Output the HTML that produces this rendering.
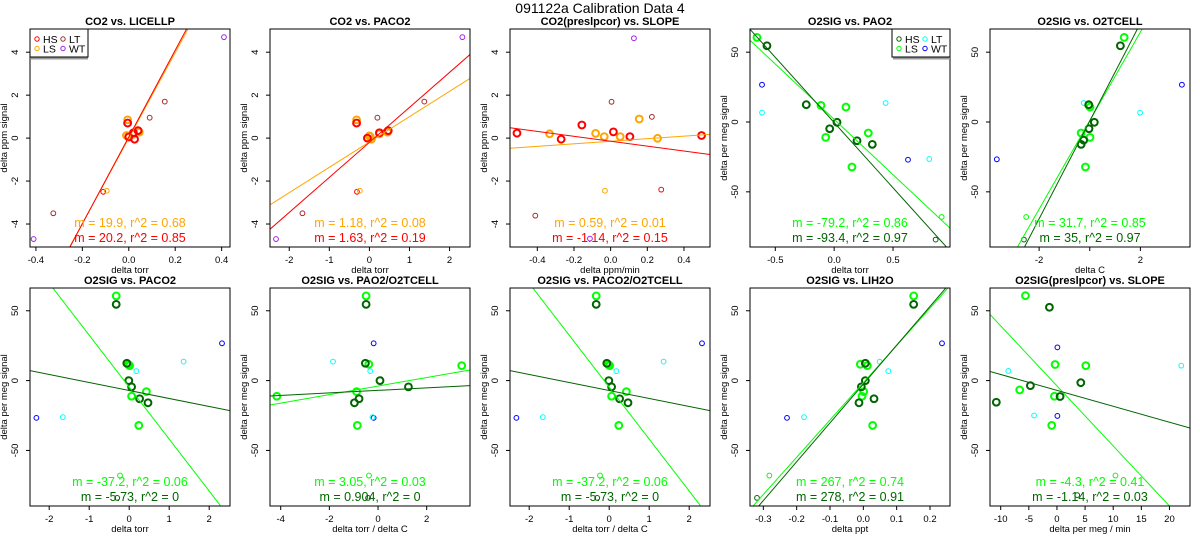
<!DOCTYPE html>
<html><head><meta charset="utf-8">
<style>
html,body{margin:0;padding:0;background:#fff;}
svg text{font-family:"Liberation Sans",Arial,sans-serif;}
</style></head>
<body>
<svg id="chart" width="1200" height="550" viewBox="0 0 1200 550" xmlns="http://www.w3.org/2000/svg">
<text x="600" y="13" text-anchor="middle" font-size="14">091122a   Calibration Data 4</text>
</svg>
<script>
// ---- data ----
const panelTitles = ["CO2 vs. LICELLP","CO2 vs. PACO2","CO2(preslpcor) vs. SLOPE","O2SIG vs. PAO2","O2SIG vs. O2TCELL","O2SIG vs. PACO2","O2SIG vs. PAO2/O2TCELL","O2SIG vs. PACO2/O2TCELL","O2SIG vs. LIH2O","O2SIG(preslpcor) vs. SLOPE"];
const xTitles = ["delta torr","delta torr","delta ppm/min","delta torr","delta C","delta torr","delta torr / delta C","delta torr / delta C","delta ppt","delta per meg / min"];
const xLims = [[-0.4255,0.436],[-2.48,2.51],[-0.549,0.542],[-0.715,0.984],[-3.94,3.96],[-2.48,2.52],[-4.44,3.78],[-2.48,2.52],[-0.34,0.26],[-11.9,23.65]];
const xTicks = [[-0.4,-0.2,0,0.2,0.4],[-2,-1,0,1,2],[-0.4,-0.2,0,0.2,0.4],[-0.5,0,0.5],[-2,0,2],[-2,-1,0,1,2],[-4,-2,0,2],[-2,-1,0,1,2],[-0.3,-0.2,-0.1,0,0.1,0.2],[-10,-5,0,5,10,15,20]];
const xTickLabels = [["-0.4","-0.2","0.0","0.2","0.4"],["-2","-1","0","1","2"],["-0.4","-0.2","0.0","0.2","0.4"],["-0.5","0.0","0.5"],["-2","","2"],["-2","-1","0","1","2"],["-4","-2","0","2"],["-2","-1","0","1","2"],["-0.3","-0.2","-0.1","0.0","0.1","0.2"],["-10","-5","0","5","10","15","20"]];
const yLimCO2 = [-5.07,5.08];
const yLimO2row1 = [-89.5,66.6];
const yLimO2row2 = [-89.8,66.3];
const yTicksCO2 = [-4,-2,0,2,4];
const yTicksO2 = [-50,0,50];
const fitA = [[20.2,0.05],[1.63,-0.2],[-1.14,-0.146],[-93.4,-0.4],[35,0.7],[-5.73,-7.1],[0.904,-7],[-5.73,-7.1],[278,-2.5],[-1.14,-7]];
const fitB = [[19.9,0],[1.18,-0.18],[0.59,-0.146],[-79.2,1.9],[31.7,1.0],[-37.2,-4.7],[3.05,-3.9],[-37.2,-4.7],[267,-1.5],[-4.3,-3.8]];
const annA = ["m = 20.2, r^2 = 0.85","m = 1.63, r^2 = 0.19","m = -1.14, r^2 = 0.15","m = -93.4, r^2 = 0.97","m = 35, r^2 = 0.97","m = -5.73, r^2 = 0","m = 0.904, r^2 = 0","m = -5.73, r^2 = 0","m = 278, r^2 = 0.91","m = -1.14, r^2 = 0.03"];
const annB = ["m = 19.9, r^2 = 0.68","m = 1.18, r^2 = 0.08","m = 0.59, r^2 = 0.01","m = -79.2, r^2 = 0.86","m = 31.7, r^2 = 0.85","m = -37.2, r^2 = 0.06","m = 3.05, r^2 = 0.03","m = -37.2, r^2 = 0.06","m = 267, r^2 = 0.74","m = -4.3, r^2 = 0.41"];
const hsPts = [
 [[-0.005,0.7],[0.02,0.25],[0.04,0.35],[0.0,0.05],[0.025,-0.05]],
 [[-0.32,0.7],[-0.05,0],[0.25,0.25],[0.47,0.35]],
 [[-0.511,0.23],[-0.27,-0.05],[-0.157,0.61],[0.015,0.29],[0.105,0.07],[0.496,0.12]],
 [[-0.571,54.6],[-0.237,12.4],[-0.038,-4.8],[0.024,-0.2],[0.194,-13.4],[0.324,-16]],
 [[1.21,54.6],[-0.04,12.4],[-0.03,-4.8],[0.18,-0.2],[-0.24,-13],[-0.34,-16]],
 [[-0.325,54.6],[-0.06,12.4],[-0.01,0],[0.06,-4.5],[0.26,-13],[0.47,-15.9]],
 [[-0.49,54.6],[-0.52,12.4],[0.08,0],[1.25,-4.5],[-0.78,-13],[-0.97,-15.9]],
 [[-0.325,54.6],[-0.06,12.4],[-0.01,0],[0.06,-4.5],[0.26,-13],[0.47,-15.9]],
 [[0.151,54.6],[0.006,12.4],[0.006,0],[-0.006,-4.5],[0.032,-13],[-0.013,-15.9]],
 [[-1.34,52.5],[-4.72,-3.6],[4.24,-1.5],[0.56,-11.4],[-10.78,-15.5]]
];
const lsPts = [
 [[-0.005,0.85],[-0.01,0.12],[0.045,0.28],[0.02,0.18],[0.0,0.08]],
 [[-0.32,0.85],[0.0,0.1],[0.05,-0.05],[0.25,0.2],[0.45,0.28],[0.02,0.08]],
 [[-0.333,0.2],[-0.082,0.22],[-0.035,0.07],[0.052,0.07],[0.156,0.89],[0.256,-0.01]],
 [[-0.656,60.6],[-0.112,11.9],[-0.072,-11],[0.1,10.7],[0.29,-7.9],[0.151,-32.2]],
 [[1.36,60.6],[-0.04,12.0],[0.01,10.7],[0.01,-11],[-0.34,-7.9],[-0.17,-32.2]],
 [[-0.325,60.6],[-0.02,11.5],[0.01,10.7],[0.06,-11.2],[0.43,-7.9],[0.24,-32.1]],
 [[-0.49,60.6],[-0.38,11.7],[3.44,10.7],[-4.16,-11.2],[-0.88,-7.9],[-0.85,-32.1]],
 [[-0.325,60.6],[-0.02,11.5],[0.01,10.7],[0.06,-11.2],[0.43,-7.9],[0.24,-32.1]],
 [[0.151,60.6],[-0.009,11.7],[0.012,10.7],[-0.004,-11.2],[0.001,-7.9],[0.028,-32.1]],
 [[-5.6,60.8],[-0.33,11.5],[5.13,10.7],[-6.62,-6.7],[-0.45,-11.2],[-0.93,-32.1]]
];
const hsOut = [[[-0.11,-2.5]],[[-0.31,-2.5]],[[0.276,-2.4]],[[0.862,-84.2]],[[-2.6,-84.2]],[[-0.3,-84]],[[-0.41,-84]],[[-0.3,-84]],[[-0.319,-84]],[[3.6,-82]]];
const lsOut = [[[-0.095,-2.45]],[[-0.24,-2.45]],[[-0.031,-2.45]],[[0.913,-68]],[[-2.51,-68]],[[-0.23,-68]],[[-0.37,-68]],[[-0.23,-68]],[[-0.282,-68]],[[10.4,-68]]];
const ltPts = [
 [[-0.325,-3.5],[0.09,0.95],[0.155,1.7]],
 [[-1.67,-3.5],[0.2,0.95],[1.37,1.7]],
 [[-0.411,-3.61],[0.005,1.69],[0.225,0.99]],
 [[-0.613,6.7],[0.437,13.6],[0.808,-26.5]],
 [[-0.24,13.6],[1.99,6.7]],
 [[-1.66,-26.2],[0.18,6.8],[1.36,13.6]],
 [[-1.85,13.6],[-0.32,6.8],[-0.23,-26.2]],
 [[-1.66,-26.2],[0.18,6.8],[1.36,13.6]],
 [[-0.178,-26.2],[0.049,13.6],[0.075,6.8]],
 [[-8.63,6.9],[-4.07,-25],[22.1,10.7]]
];
const wtPts = [
 [[-0.41,-4.7],[0.41,4.7]],
 [[-2.33,-4.7],[2.32,4.7]],
 [[0.127,4.65],[-0.113,-4.68]],
 [[-0.613,26.7],[0.627,-27]],
 [[-3.67,-26.7],[3.64,26.7]],
 [[-2.32,-26.7],[2.32,26.7]],
 [[-0.18,26.7],[-0.18,-26.7]],
 [[-2.32,-26.7],[2.32,26.7]],
 [[-0.229,-26.7],[0.236,26.7]],
 [[0.08,23.8],[0.08,-25.3]]
];
const legendLabels = ["HS","LS","LT","WT"];

// ---- drawing ----
const NS = "http://www.w3.org/2000/svg";
const svg = document.getElementById('chart');
function mk(tag, attrs, parent){
  const e = document.createElementNS(NS, tag);
  for (const k in attrs) e.setAttribute(k, attrs[k]);
  (parent||svg).appendChild(e);
  return e;
}
const co2Cols = {a:"#FF0000", b:"#FFA500", lt:"#A52A2A", wt:"#A020F0"};
const o2Cols = {a:"#006400", b:"#00FF00", lt:"#00FFFF", wt:"#0000FF"};

for (let i=0;i<10;i++){
  const row = Math.floor(i/5), col = i%5;
  const L = 30+240*col, R = L+200;
  const T = row===0 ? 29 : 288, B = row===0 ? 247 : 506;
  const isCO2 = i<3;
  const yl = isCO2 ? yLimCO2 : (row===0 ? yLimO2row1 : yLimO2row2);
  const yt = isCO2 ? yTicksCO2 : yTicksO2;
  const xl = xLims[i];
  const sx = v => L + (v-xl[0])/(xl[1]-xl[0])*(R-L);
  const sy = v => B - (v-yl[0])/(yl[1]-yl[0])*(B-T);
  const C = isCO2 ? co2Cols : o2Cols;

  const g = mk('g', {});
  
  
  const cp = mk('clipPath', {id:'clip'+i}, g);
  mk('rect', {x:L, y:T, width:R-L, height:B-T}, cp);

  const title = mk('text', {x:L+100, y:row===0?28:287, 'text-anchor':'middle', 'font-size':'11', 'font-weight':'bold', dy:'-3'}, g);
  title.textContent = panelTitles[i];
  
  

  xTicks[i].forEach((v,k)=>{
    const x = sx(v);
    mk('line', {x1:x, x2:x, y1:B, y2:B+4, stroke:'#000', 'stroke-width':1}, g);
    const t = mk('text', {x:x, y:B+16, 'text-anchor':'middle', 'font-size':'9.5'}, g);
    t.textContent = xTickLabels[i][k];
    
    
  });
  const xt = mk('text', {x:L+100, y:B+26, 'text-anchor':'middle', 'font-size':'9.5'}, g);
  xt.textContent = xTitles[i];
  
  

  yt.forEach(v=>{
    const y = sy(v);
    mk('line', {x1:L-4, x2:L, y1:y, y2:y, stroke:'#000', 'stroke-width':1}, g);
    const t = mk('text', {x:0, y:0, 'text-anchor':'middle', 'font-size':'9.5', transform:`translate(${L-12},${y}) rotate(-90)`}, g);
    t.textContent = String(v);
    
    
  });
  const ytl = mk('text', {x:0, y:0, 'text-anchor':'middle', 'font-size':'9.5', transform:`translate(${L-23},${(T+B)/2}) rotate(-90)`}, g);
  ytl.textContent = isCO2 ? 'delta ppm signal' : 'delta per meg signal';
  
  

  const drawPts = (pts, color, r, w, name) => pts.forEach(p=>{
    const c = mk('circle', {cx:sx(p[0]), cy:sy(p[1]), r:r, fill:'none', stroke:color, 'stroke-width':w}, g);
    
    
  });
  drawPts(wtPts[i], C.wt, 2.4, 1, 'wt-point');
  drawPts(ltPts[i], C.lt, 2.4, 1, 'lt-point');
  drawPts(hsOut[i], C.a, 2.4, 1, 'hs-excluded-point');
  drawPts(lsOut[i], C.b, 2.4, 1, 'ls-excluded-point');
  drawPts(lsPts[i], C.b, 3.4, 2, 'ls-point');
  drawPts(hsPts[i], C.a, 3.4, 2, 'hs-point');

  const drawFit = (f, color, name) => {
    const ln = mk('line', {x1:sx(xl[0]), y1:sy(f[1]+f[0]*xl[0]), x2:sx(xl[1]), y2:sy(f[1]+f[0]*xl[1]), stroke:color, 'stroke-width':1, 'clip-path':`url(#clip${i})`}, g);
    
    
  };
  drawFit(fitB[i], C.b, 'ls-fit-line');
  drawFit(fitA[i], C.a, 'hs-fit-line');

  const ry = row===0 ? [227,242] : [486,501];
  const a1 = mk('text', {x:L+100, y:ry[0], 'text-anchor':'middle', 'font-size':'12.5', fill:C.b}, g);
  a1.textContent = annB[i];
  
  
  const a2 = mk('text', {x:L+100, y:ry[1], 'text-anchor':'middle', 'font-size':'12.5', fill:C.a}, g);
  a2.textContent = annA[i];
  
  

  const fr = mk('rect', {x:L, y:T, width:R-L, height:B-T, fill:'none', stroke:'#000', 'stroke-width':1}, g);
  
  

  if (i===0 || i===3){
    const lx = i===0 ? L : R-58, ly = T;
    const lg = mk('g', {}, g);
    
    
    mk('line', {x1:lx+1, x2:lx+58, y1:ly+29.5, y2:ly+29.5, stroke:'#999', 'stroke-width':2}, lg);
    mk('rect', {x:lx, y:ly, width:58, height:28, fill:'#fff', stroke:'#000', 'stroke-width':1}, lg);
    const cols = [C.a, C.b, C.lt, C.wt];
    legendLabels.forEach((lab,k)=>{
      const cx = lx + 7 + (k>=2?26:0), cy = ly + 10 + (k%2)*9.5;
      mk('circle', {cx:cx, cy:cy, r:2.2, fill:'none', stroke:cols[k], 'stroke-width':1}, lg);
      const t = mk('text', {x:cx+6, y:cy+4, 'font-size':'10.5', fill:'#000'}, lg);
      t.textContent = lab;
      
      
    });
  }
}
</script>
</body></html>
